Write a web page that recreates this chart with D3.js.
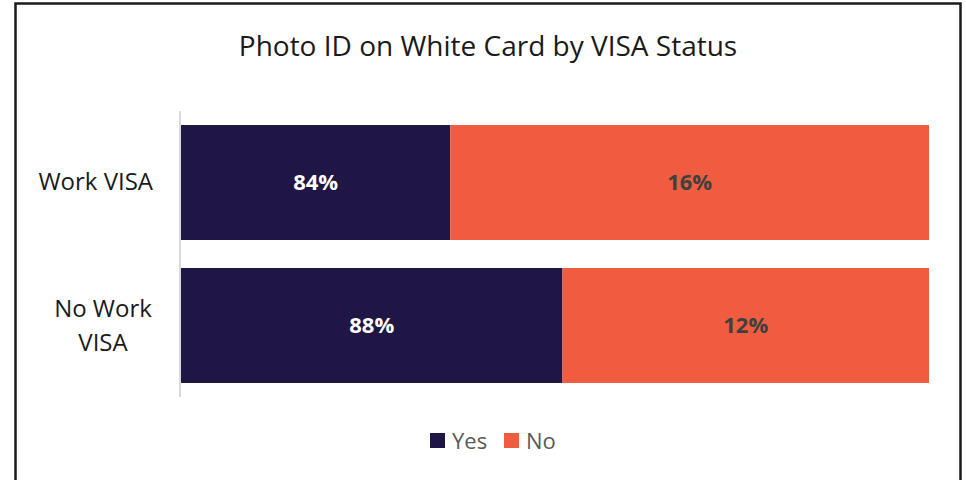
<!DOCTYPE html>
<html>
<head>
<meta charset="utf-8">
<script src="https://cdn.jsdelivr.net/npm/d3@7"></script>
<style>
  body { margin: 0; background: #fff; }
  svg { display: block; font-family: "Open Sans", "Liberation Sans", sans-serif; }
</style>
</head>
<body>
<svg class="bar-chart" width="966" height="480"></svg>
<script>
// Static data
const categories = ['Work VISA', 'No Work VISA'];
const yesShare = [36, 51];          // bar lengths as drawn
const noShare = [64, 49];
const yesLabels = ['84%', '88%'];
const noLabels = ['16%', '12%'];
const seriesNames = ['Yes', 'No'];
const colors = ['#1f1646', '#f05c40'];

const margin = { top: 111, right: 37, bottom: 83, left: 181 };
const width = 966, height = 480;
const w = width - margin.left - margin.right;
const h = 286;

const svg = d3.select('.bar-chart');

// outer frame
svg.append('rect')
   .attr('x', 15.5).attr('y', 3.5)
   .attr('width', 945).attr('height', 500)
   .attr('fill', 'none').attr('stroke', '#1a1a1a').attr('stroke-width', 2.5);

svg.append('text')
   .attr('x', 488).attr('y', 56)
   .attr('text-anchor', 'middle')
   .attr('font-size', 28)
   .attr('fill', '#1a1a1a')
   .text('Photo ID on White Card by VISA Status');

const x = d3.scaleLinear().domain([0, 100]).range([0, w]);
const y = d3.scaleBand().domain(categories).range([0, h]).paddingInner(0.196).paddingOuter(0.098);

const g = svg.append('g').attr('transform', `translate(${margin.left}, ${margin.top})`);

const rows = categories.map((c, i) => ({
  cat: c,
  segs: [
    { x0: 0, x1: yesShare[i], label: yesLabels[i], s: 0 },
    { x0: yesShare[i], x1: yesShare[i] + noShare[i], label: noLabels[i], s: 1 }
  ]
}));

const row = g.selectAll('.row')
  .data(rows)
  .enter().append('g')
  .attr('class', 'row')
  .attr('transform', d => `translate(0, ${y(d.cat)})`);

row.selectAll('rect')
   .data(d => d.segs)
   .enter().append('rect')
   .attr('x', d => x(d.x0))
   .attr('width', d => x(d.x1) - x(d.x0))
   .attr('height', y.bandwidth())
   .attr('fill', d => colors[d.s]);

row.selectAll('.seg-label')
   .data(d => d.segs)
   .enter().append('text')
   .attr('class', 'seg-label')
   .attr('x', d => (x(d.x0) + x(d.x1)) / 2)
   .attr('y', y.bandwidth() / 2)
   .attr('dy', '0.35em')
   .attr('text-anchor', 'middle')
   .attr('font-size', 22)
   .attr('font-weight', 'bold')
   .attr('fill', d => d.s === 0 ? '#ffffff' : '#404040')
   .text(d => d.label);

// y axis line
const yAxis = d3.axisLeft(y).tickSize(0).tickPadding(28);
const ya = g.append('g').call(yAxis);
ya.select('.domain').attr('stroke', '#d9d9d9').attr('stroke-width', 2).attr('d', `M-1,0V${h}`);
ya.selectAll('text')
  .attr('font-size', 24)
  .attr('fill', '#1a1a1a')
  .attr('font-family', '"Open Sans", "Liberation Sans", sans-serif')
  .each(function(d) {
    const t = d3.select(this);
    if (d === 'No Work VISA') {
      t.text(null).attr('text-anchor', 'middle');
      t.append('tspan').attr('x', -78).attr('dy', '-0.35em').text('No Work');
      t.append('tspan').attr('x', -78).attr('dy', '1.4em').text('VISA');
    }
  });

// legend
const legend = svg.append('g').attr('transform', 'translate(430, 441)');
const items = legend.selectAll('g')
  .data(seriesNames)
  .enter().append('g')
  .attr('transform', (d, i) => `translate(${i * 74}, 0)`);
items.append('rect')
  .attr('x', 0).attr('y', -8).attr('width', 15).attr('height', 15)
  .attr('fill', (d, i) => colors[i]);
items.append('text')
  .attr('x', 22).attr('y', 0).attr('dy', '0.35em')
  .attr('font-size', 22)
  .attr('fill', '#595959')
  .text(d => d);
</script>
</body>
</html>
